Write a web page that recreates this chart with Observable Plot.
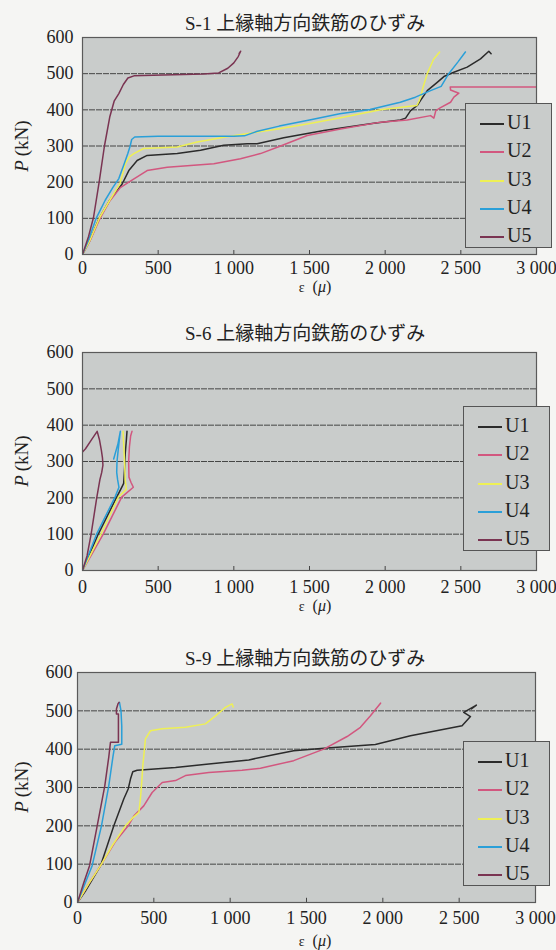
<!DOCTYPE html>
<html><head><meta charset="utf-8">
<script src="https://cdn.jsdelivr.net/npm/d3@7"></script>
<script src="https://cdn.jsdelivr.net/npm/@observablehq/plot@0.6"></script>
<style>
body{margin:0;background:#f5f5f3;}
#wrap{position:relative;width:556px;height:950px;overflow:hidden;font-family:"Liberation Serif","Noto Sans CJK JP",serif;color:#222;}
.abs{position:absolute;white-space:nowrap;}
.c{transform:translate(-50%,-50%);}
.legend{position:absolute;background:#c9cccb;border:1.5px solid #555;box-sizing:border-box;}
.row{position:absolute;left:0;height:0;}
.row .sw{position:absolute;left:14px;width:24px;height:0;border-top:2px solid;}
.row .lb{position:absolute;left:41px;top:0;transform:translateY(-52%);font-size:20px;}
</style></head><body><div id="wrap"></div>
<script>
// ---- shared labels ----
const seriesNames = ["U1", "U2", "U3", "U4", "U5"];
const seriesColors = ["#2b2b2b", "#d2577f", "#eef055", "#2a9fd8", "#7a3452"];
const xTicks = [0, 500, 1000, 1500, 2000, 2500, 3000];
const xTickLabels = ["0", "500", "1 000", "1 500", "2 000", "2 500", "3 000"];
const yTicks = [0, 100, 200, 300, 400, 500, 600];
const yGridLines = [100, 200, 300, 400, 500];
const titles = ["S-1 上縁軸方向鉄筋のひずみ", "S-6 上縁軸方向鉄筋のひずみ", "S-9 上縁軸方向鉄筋のひずみ"];

// ---- S-1 ----
const s1_U1 = [[0,0],[50,40],[110,100],[180,150],[262,195],[306,232],[361,260],[427,274],[626,279],[780,288],[933,302],[1088,306],[1154,306],[1330,323],[1595,343],[1925,363],[2100,372],[2135,377],[2168,398],[2212,412],[2234,426],[2278,453],[2344,476],[2388,492],[2454,504],[2542,518],[2630,541],[2685,562],[2700,555]];
const s1_U2 = [[0,0],[50,38],[110,95],[180,148],[250,185],[306,200],[427,232],[560,241],[868,251],[1044,265],[1176,279],[1309,300],[1485,329],[1705,347],[1970,366],[2146,372],[2300,384],[2322,377],[2335,398],[2366,406],[2432,421],[2454,435],[2487,446],[2432,455],[2430,463],[3000,463]];
const s1_U3 = [[0,0],[50,40],[114,103],[180,150],[247,195],[284,251],[310,270],[339,279],[404,293],[626,297],[758,311],[933,324],[1050,332],[1260,345],[1485,361],[1705,378],[1970,400],[2150,409],[2210,412],[2225,425],[2240,445],[2250,462],[2278,500],[2320,540],[2360,560]];
const s1_U4 = [[0,0],[40,40],[90,100],[150,150],[200,185],[240,210],[275,250],[300,280],[315,300],[325,318],[345,325],[500,327],[800,327],[1000,327],[1070,328],[1150,340],[1300,355],[1500,372],[1700,389],[1900,401],[2100,421],[2200,435],[2300,453],[2370,465],[2420,500],[2480,532],[2530,560]];
const s1_U5 = [[0,0],[40,50],[73,103],[110,200],[145,300],[180,380],[210,425],[240,445],[270,470],[300,488],[340,494],[400,495],[600,497],[800,499],[900,502],[960,515],[1000,530],[1030,548],[1045,562],[1035,556]];

// ---- S-6 ----
const s6_U1 = [[0,0],[105,101],[226,202],[259,229],[272,240],[278,280],[282,320],[290,360],[294,383]];
const s6_U2 = [[0,0],[138,101],[259,202],[336,229],[320,243],[307,257],[305,300],[310,340],[318,370],[327,383]];
const s6_U3 = [[0,0],[123,101],[237,202],[290,224],[282,250],[278,300],[272,350],[268,383]];
const s6_U4 = [[0,0],[94,101],[215,202],[241,229],[232,250],[226,270],[228,300],[238,340],[250,383],[235,350],[206,307]];
const s6_U5 = [[0,0],[30,40],[57,100],[94,200],[115,250],[127,270],[135,290],[132,310],[125,330],[112,360],[97,383],[60,360],[20,335],[0,326]];

// ---- S-9 ----
const s9_U1 = [[0,0],[52,30],[151,96],[238,200],[303,270],[332,296],[347,322],[362,341],[391,345],[642,352],[860,361],[1122,372],[1300,387],[1416,396],[1635,403],[1951,412],[2181,435],[2519,461],[2574,485],[2530,496],[2613,515],[2580,505]];
const s9_U2 = [[0,0],[75,50],[151,96],[250,160],[332,200],[370,226],[434,252],[489,287],[555,313],[642,318],[707,331],[860,339],[1078,345],[1198,350],[1416,370],[1613,400],[1766,433],[1853,457],[1919,487],[1973,514],[1985,520]];
const s9_U3 = [[0,0],[75,50],[151,96],[230,150],[314,200],[360,220],[402,235],[412,270],[420,310],[428,357],[445,427],[478,448],[555,453],[707,457],[838,466],[904,487],[969,509],[1013,518],[1020,510]];
const s9_U4 = [[0,0],[50,50],[96,96],[157,200],[205,305],[232,380],[244,409],[290,413],[290,460],[285,500],[275,522]];
const s9_U5 = [[0,0],[40,50],[79,96],[129,200],[179,305],[205,380],[216,418],[268,418],[268,492],[255,492],[255,505],[265,518],[272,522]];

const charts = [
  {title: titles[0], series: [s1_U1, s1_U2, s1_U3, s1_U4, s1_U5], top: 0, height: 300, mt: 37, mb: 46, ml: 82, mr: 20, xpad: 7, ypad: 9,
   titleY: 21, xlabY: 287, legendTop: 103, legendLeft: 465},
  {title: titles[1], series: [s6_U1, s6_U2, s6_U3, s6_U4, s6_U5], top: 310, height: 300, mt: 42, mb: 40, ml: 82, mr: 20, xpad: 10, ypad: 9,
   titleY: 331, xlabY: 606, legendTop: 406, legendLeft: 463},
  {title: titles[2], series: [s9_U1, s9_U2, s9_U3, s9_U4, s9_U5], top: 630, height: 320, mt: 42, mb: 48, ml: 77, mr: 21, xpad: 8.5, ypad: 5,
   titleY: 656, xlabY: 941, legendTop: 741, legendLeft: 463}
];

const wrap = document.getElementById("wrap");
function addText(html, x, y, extra) {
  const d = document.createElement("div");
  d.className = "abs c";
  d.style.left = x + "px"; d.style.top = y + "px";
  d.innerHTML = html;
  Object.assign(d.style, extra || {});
  wrap.appendChild(d);
  return d;
}

for (const c of charts) {
  const data = c.series.flatMap((pts, i) => pts.map(([x, y]) => ({x, y, s: seriesNames[i]})));
  const svg = Plot.plot({
    width: 556, height: c.height,
    marginTop: c.mt, marginBottom: c.mb, marginLeft: c.ml, marginRight: c.mr,
    style: {background: "transparent", fontFamily: "'Liberation Serif', serif", fontSize: "18px", color: "#222", overflow: "visible"},
    x: {domain: [0, 3000], ticks: xTicks, label: null},
    y: {domain: [0, 600], ticks: yTicks, label: null},
    color: {domain: seriesNames, range: seriesColors},
    marks: [
      Plot.frame({fill: "#c9cccb"}),
      Plot.gridY(yGridLines, {stroke: "#2e2e2e", strokeOpacity: 0.85, strokeDasharray: "6,1", strokeWidth: 1}),
      Plot.ruleX(xTicks.slice(1, -1), {y1: 0, y2: 11, stroke: "#444", strokeWidth: 1}),
      Plot.line(data, {x: "x", y: "y", z: "s", stroke: "s", strokeWidth: 1.5, clip: true}),
      Plot.frame({stroke: "#5a5a5a", strokeWidth: 1.2}),
      Plot.axisX(xTicks, {tickSize: 0, tickPadding: c.xpad, tickFormat: (d, i) => xTickLabels[i], fill: "#222"}),
      Plot.axisY(yTicks, {tickSize: 0, tickPadding: c.ypad, fill: "#222"})
    ]
  });
  svg.style.position = "absolute";
  svg.style.left = "0px";
  svg.style.top = c.top + "px";
  wrap.appendChild(svg);

  // title
  addText(c.title, 185, c.titleY, {fontSize: "19px", transform: "translateY(-50%)"});
  // y label
  const plotMid = c.top + c.mt + (c.height - c.mt - c.mb) / 2;
  addText('<i>P</i>\u2009(kN)', 22, plotMid, {fontSize: "19px", transform: "translate(-50%,-50%) rotate(-90deg)"});
  // x label
  addText('<span style="font-size:14px">ε</span>\u2002(<i>μ</i>)', 315, c.xlabY, {fontSize: "16px"});
  // legend
  const lg = document.createElement("div");
  lg.className = "legend";
  lg.style.left = c.legendLeft + "px"; lg.style.top = c.legendTop + "px";
  lg.style.width = "87px"; lg.style.height = "145px";
  seriesNames.forEach((n, i) => {
    const r = document.createElement("div");
    r.className = "row";
    r.style.top = (19 + i * 28.3) + "px";
    r.innerHTML = `<div class="sw" style="border-top-color:${seriesColors[i]}"></div><div class="lb">${n}</div>`;
    lg.appendChild(r);
  });
  wrap.appendChild(lg);
}
</script></body></html>
